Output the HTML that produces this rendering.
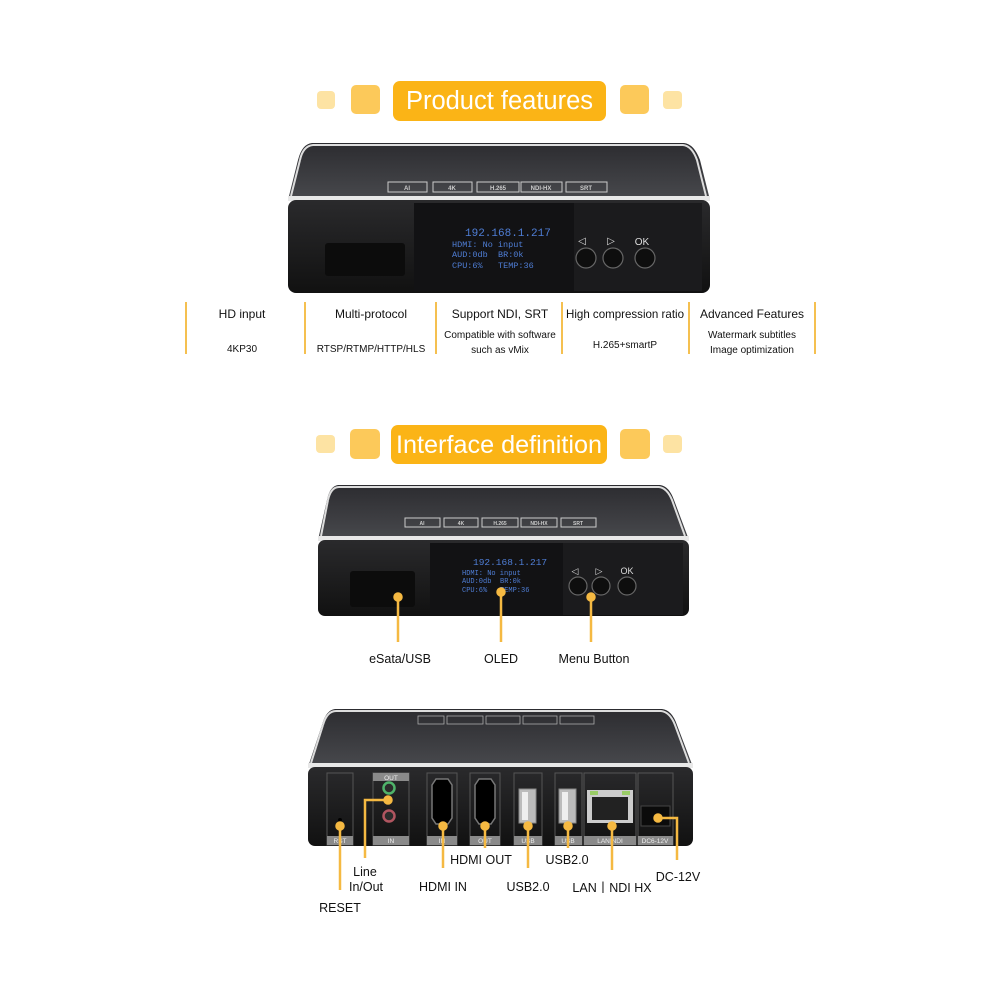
<!DOCTYPE html>
<html><head><meta charset="utf-8"><style>
html,body{margin:0;padding:0;background:#fff}
svg{display:block}
text{font-family:"Liberation Sans",sans-serif}
.m{font-family:"Liberation Mono",monospace;white-space:pre}
</style></head><body>
<svg width="1000" height="1000" viewBox="0 0 1000 1000" xmlns="http://www.w3.org/2000/svg">
<defs>
<linearGradient id="top" x1="0" y1="0" x2="0" y2="1"><stop offset="0" stop-color="#2c2c30"/><stop offset="1" stop-color="#48494d"/></linearGradient>
<linearGradient id="front" x1="0" y1="0" x2="0" y2="1"><stop offset="0" stop-color="#2a2a2c"/><stop offset="1" stop-color="#111"/></linearGradient>
</defs>
<rect width="1000" height="1000" fill="#fff"/>

<!-- Title 1 -->
<rect x="317" y="91" width="18" height="18" rx="4" fill="#fde3a3"/>
<rect x="351" y="85" width="29" height="29" rx="5" fill="#fcc95a"/>
<rect x="393" y="81" width="213" height="40" rx="7" fill="#fbb416"/>
<text x="499.5" y="109" text-anchor="middle" font-size="25.5" fill="#fff">Product features</text>
<rect x="620" y="85" width="29" height="29" rx="5" fill="#fcc95a"/>
<rect x="663" y="91" width="19" height="18" rx="4" fill="#fde3a3"/>

<!-- Device 1 -->
<path d="M312,143 L684,143 Q694,144 700,160 L710,200 L288,200 L298,160 Q302,144 312,143 Z" fill="url(#top)"/>
<path d="M300,160 Q303,146 313,145 L683,145 Q692,146 697,160 L706,196" fill="none" stroke="#ddd" stroke-width="2"/>
<path d="M291,196 L300,160" stroke="#ddd" stroke-width="2"/>
<rect x="288" y="196" width="422" height="5" fill="#e8e8e8"/>
<rect x="288" y="200" width="422" height="93" rx="8" fill="url(#front)"/>
<rect x="414" y="203" width="160" height="88" fill="#121214"/>
<rect x="574" y="203" width="128" height="88" fill="#1b1b1d"/>
<rect x="325" y="243" width="80" height="33" rx="3" fill="#0c0c0c"/>
<g fill="none" stroke="#ccc" stroke-width="1"><rect x="388" y="182" width="39" height="10"/><rect x="433" y="182" width="39" height="10"/><rect x="477" y="182" width="42" height="10"/><rect x="521" y="182" width="41" height="10"/><rect x="566" y="182" width="41" height="10"/></g>
<g font-size="6" fill="#ccc" text-anchor="middle" font-weight="bold"><text x="407" y="190">AI</text><text x="452" y="190">4K</text><text x="498" y="190">H.265</text><text x="541" y="190">NDI-HX</text><text x="586" y="190">SRT</text></g>
<g fill="#4f7ed6">
<text class="m" x="465" y="236" font-size="11">192.168.1.217</text>
<text class="m" x="452" y="247" font-size="8.5">HDMI: No input</text>
<text class="m" x="452" y="257" font-size="8.5">AUD:0db</text><text class="m" x="498" y="257" font-size="8.5">BR:0k</text>
<text class="m" x="452" y="268" font-size="8.5">CPU:6%</text><text class="m" x="498" y="268" font-size="8.5">TEMP:36</text></g>
<g fill="#0e0e0e" stroke="#666" stroke-width="1.2"><circle cx="586" cy="258" r="10"/><circle cx="613" cy="258" r="10"/><circle cx="645" cy="258" r="10"/></g>
<g fill="#ddd" font-size="10" text-anchor="middle"><text x="582" y="244">◁</text><text x="611" y="244">▷</text><text x="642" y="245">OK</text></g>

<!-- Features row -->
<g stroke="#f5c050" stroke-width="2"><line x1="186" y1="302" x2="186" y2="354"/><line x1="305" y1="302" x2="305" y2="354"/><line x1="436" y1="302" x2="436" y2="354"/><line x1="562" y1="302" x2="562" y2="354"/><line x1="689" y1="302" x2="689" y2="354"/><line x1="815" y1="302" x2="815" y2="354"/></g>
<g text-anchor="middle" fill="#111">
<g font-size="12"><text x="242" y="318">HD input</text><text x="371" y="318">Multi-protocol</text><text x="500" y="318">Support NDI, SRT</text><text x="625" y="318" textLength="118" lengthAdjust="spacingAndGlyphs">High compression ratio</text><text x="752" y="318">Advanced Features</text></g>
<g font-size="10"><text x="242" y="352">4KP30</text><text x="371" y="352">RTSP/RTMP/HTTP/HLS</text><text x="500" y="338">Compatible with software</text><text x="500" y="353">such as vMix</text><text x="625" y="348">H.265+smartP</text><text x="752" y="338">Watermark subtitles</text><text x="752" y="353">Image optimization</text></g>
</g>

<!-- Title 2 -->
<rect x="316" y="435" width="19" height="18" rx="4" fill="#fde3a3"/>
<rect x="350" y="429" width="30" height="30" rx="5" fill="#fcc95a"/>
<rect x="391" y="425" width="216" height="39" rx="7" fill="#fbb416"/>
<text x="499" y="453" text-anchor="middle" font-size="25" fill="#fff" textLength="206" lengthAdjust="spacingAndGlyphs">Interface definition</text>
<rect x="620" y="429" width="30" height="30" rx="5" fill="#fcc95a"/>
<rect x="663" y="435" width="19" height="18" rx="4" fill="#fde3a3"/>

<!-- Device 2 -->
<path d="M338,485 L660,485 Q669,486 674,500 L689,540 L318,540 L327,500 Q330,486 338,485 Z" fill="url(#top)"/>
<path d="M328,500 Q331,487 339,487 L659,487 Q667,488 672,500 L685,536" fill="none" stroke="#ddd" stroke-width="2"/>
<path d="M321,536 L328,500" stroke="#ddd" stroke-width="2"/>
<rect x="318" y="536" width="371" height="5" fill="#e8e8e8"/>
<rect x="318" y="540" width="371" height="76" rx="7" fill="url(#front)"/>
<rect x="430" y="543" width="133" height="72" fill="#121214"/>
<rect x="563" y="543" width="120" height="72" fill="#1b1b1d"/>
<rect x="350" y="571" width="65" height="36" rx="3" fill="#0c0c0c"/>
<g fill="none" stroke="#ccc" stroke-width="1"><rect x="405" y="518" width="35" height="9"/><rect x="444" y="518" width="34" height="9"/><rect x="482" y="518" width="36" height="9"/><rect x="521" y="518" width="36" height="9"/><rect x="561" y="518" width="35" height="9"/></g>
<g font-size="5" fill="#ccc" text-anchor="middle" font-weight="bold"><text x="422" y="525">AI</text><text x="461" y="525">4K</text><text x="500" y="525">H.265</text><text x="539" y="525">NDI-HX</text><text x="578" y="525">SRT</text></g>
<g fill="#4f7ed6"><text class="m" x="473" y="565" font-size="9.5">192.168.1.217</text>
<text class="m" x="462" y="575" font-size="7">HDMI: No input</text>
<text class="m" x="462" y="583" font-size="7">AUD:0db</text><text class="m" x="500" y="583" font-size="7">BR:0k</text>
<text class="m" x="462" y="592" font-size="7">CPU:6%</text><text class="m" x="500" y="592" font-size="7">TEMP:36</text></g>
<g fill="#0e0e0e" stroke="#666" stroke-width="1.2"><circle cx="578" cy="586" r="9"/><circle cx="601" cy="586" r="9"/><circle cx="627" cy="586" r="9"/></g>
<g fill="#ddd" font-size="9" text-anchor="middle"><text x="575" y="574">◁</text><text x="599" y="574">▷</text><text x="627" y="574">OK</text></g>
<g stroke="#f5b942" stroke-width="2.5" fill="#f5b942"><line x1="398" y1="597" x2="398" y2="642"/><circle cx="398" cy="597" r="3.5"/><line x1="501" y1="592" x2="501" y2="642"/><circle cx="501" cy="592" r="3.5"/><line x1="591" y1="597" x2="591" y2="642"/><circle cx="591" cy="597" r="3.5"/></g>
<g font-size="12.5" fill="#111" text-anchor="middle"><text x="400" y="663">eSata/USB</text><text x="501" y="663">OLED</text><text x="594" y="663">Menu Button</text></g>

<!-- Device 3 (rear) -->
<path d="M335,709 L662,709 Q672,710 677,725 L693,767 L308,767 L322,725 Q326,710 335,709 Z" fill="url(#top)"/>
<path d="M323,725 Q327,711 336,711 L661,711 Q670,712 675,725 L689,763" fill="none" stroke="#ddd" stroke-width="2"/>
<path d="M311,763 L323,725" stroke="#ddd" stroke-width="2"/>
<rect x="308" y="763" width="385" height="5" fill="#e8e8e8"/>
<rect x="308" y="767" width="385" height="79" rx="7" fill="url(#front)"/>
<g fill="none" stroke="#aaa" stroke-width="0.8"><rect x="418" y="716" width="26" height="8"/><rect x="447" y="716" width="36" height="8"/><rect x="486" y="716" width="34" height="8"/><rect x="523" y="716" width="34" height="8"/><rect x="560" y="716" width="34" height="8"/></g>
<g fill="none" stroke="#555" stroke-width="1"><rect x="327" y="773" width="26" height="72"/><rect x="373" y="773" width="36" height="72"/><rect x="427" y="773" width="30" height="72"/><rect x="470" y="773" width="30" height="72"/><rect x="514" y="773" width="28" height="72"/><rect x="555" y="773" width="27" height="72"/><rect x="584" y="773" width="52" height="72"/><rect x="638" y="773" width="35" height="72"/></g>
<g fill="#8a8a8a"><rect x="327" y="836" width="26" height="9"/><rect x="373" y="836" width="36" height="9"/><rect x="373" y="773" width="36" height="8"/><rect x="427" y="836" width="30" height="9"/><rect x="470" y="836" width="30" height="9"/><rect x="514" y="836" width="28" height="9"/><rect x="555" y="836" width="27" height="9"/><rect x="584" y="836" width="52" height="9"/><rect x="638" y="836" width="35" height="9"/></g>
<g font-size="6.5" fill="#eee" text-anchor="middle"><text x="340" y="843">RST</text><text x="391" y="843">IN</text><text x="391" y="780">OUT</text><text x="442" y="843">IN</text><text x="485" y="843">OUT</text><text x="528" y="843">USB</text><text x="568" y="843">USB</text><text x="610" y="843">LAN|NDI</text><text x="655" y="843">DC6-12V</text></g>
<circle cx="340" cy="820" r="2" fill="#000"/>
<circle cx="389" cy="788" r="5.5" fill="#2b2b2b" stroke="#4fb36a" stroke-width="2.5"/>
<circle cx="389" cy="816" r="5.5" fill="#2b2b2b" stroke="#b05560" stroke-width="2.5"/>
<path d="M432,785 L436,779 L448,779 L452,785 L452,818 L448,824 L436,824 L432,818 Z" fill="#000" stroke="#777" stroke-width="1.5"/>
<path d="M475,785 L479,779 L491,779 L495,785 L495,818 L491,824 L479,824 L475,818 Z" fill="#000" stroke="#777" stroke-width="1.5"/>
<rect x="519" y="789" width="17" height="34" fill="#bbb" stroke="#888"/><rect x="522" y="792" width="6" height="28" fill="#eee"/>
<rect x="559" y="789" width="17" height="34" fill="#bbb" stroke="#888"/><rect x="562" y="792" width="6" height="28" fill="#eee"/>
<rect x="587" y="790" width="46" height="33" fill="#ccc"/><rect x="592" y="797" width="36" height="23" fill="#222"/><rect x="590" y="791" width="8" height="4" fill="#9c6"/><rect x="622" y="791" width="8" height="4" fill="#9c6"/>
<rect x="641" y="806" width="29" height="20" fill="#0b0b0b" stroke="#444"/>
<g stroke="#f5b942" stroke-width="2.5" fill="#f5b942">
<line x1="340" y1="826" x2="340" y2="890"/><circle cx="340" cy="826" r="3.5"/>
<polyline points="388,800 365,800 365,858" fill="none"/><circle cx="388" cy="800" r="3.5"/>
<line x1="443" y1="826" x2="443" y2="868"/><circle cx="443" cy="826" r="3.5"/>
<line x1="485" y1="826" x2="485" y2="848"/><circle cx="485" cy="826" r="3.5"/>
<line x1="528" y1="826" x2="528" y2="868"/><circle cx="528" cy="826" r="3.5"/>
<line x1="568" y1="826" x2="568" y2="848"/><circle cx="568" cy="826" r="3.5"/>
<line x1="612" y1="826" x2="612" y2="870"/><circle cx="612" cy="826" r="3.5"/>
<polyline points="658,818 677,818 677,860" fill="none"/><circle cx="658" cy="818" r="3.5"/>
</g>
<g font-size="12.5" fill="#111" text-anchor="middle">
<text x="340" y="912">RESET</text><text x="365" y="876">Line</text><text x="366" y="891">In/Out</text>
<text x="443" y="891">HDMI IN</text><text x="481" y="864">HDMI OUT</text><text x="528" y="891">USB2.0</text>
<text x="567" y="864">USB2.0</text><text x="612" y="892">LAN丨NDI HX</text><text x="678" y="881">DC-12V</text>
</g>
</svg>
</body></html>
